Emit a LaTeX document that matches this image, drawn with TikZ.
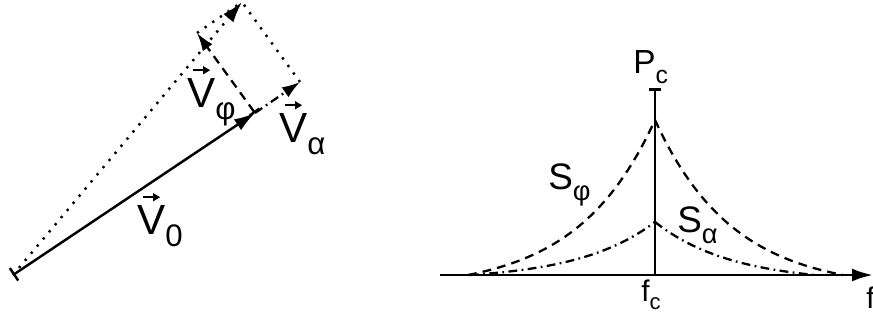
\documentclass[tikz,border=0pt]{standalone}
\usepackage{fontspec}
\setmainfont{Liberation Sans}
\usetikzlibrary{arrows.meta, calc}

% small arrow on top of a letter, and a lowered subscript
\newcommand{\arrowtop}{\tikz[x=1pt, y=1pt]\draw[solid, line width=0.9pt, -{Triangle[length=4pt, width=4.4pt]}] (0,0) -- (10,0);}
\newcommand{\vecl}[1]{\ooalign{#1\cr\hidewidth\raisebox{0.78em}{\arrowtop}\hidewidth\cr}}
\newcommand{\sub}[1]{\raisebox{-0.3em}{\scalebox{0.74}{#1}}}

\begin{document}
\begin{tikzpicture}[
    x=0.02cm, y=-0.02cm,
    lbl/.style={inner sep=0pt, anchor=base west},
    big/.style={font=\fontsize{24}{26}\selectfont},
    mid/.style={font=\fontsize{21}{24}\selectfont},
    small/.style={font=\fontsize{19}{22}\selectfont},
    tiny/.style={font=\fontsize{17}{19}\selectfont},
    vec/.style={line width=1.4pt, -{Latex[length=4.2mm, width=2.6mm]}},
    dots/.style={line width=1.4pt, dash pattern=on 1.3pt off 4pt},
    dashline/.style={line width=1.3pt, dash pattern=on 5pt off 3.5pt},
    dashdot/.style={line width=1.3pt, dash pattern=on 5pt off 2.5pt on 1pt off 2.5pt},
    axis/.style={line width=1.6pt}
]
\useasboundingbox (0,0) rectangle (873,322);

% Vector decomposition
\coordinate (o) at (13,275);
\coordinate (v0) at (255,113);
\coordinate (vphi) at (197,33);
\coordinate (valpha) at (300,82);
\coordinate (vsum) at ($(vphi)+(valpha)-(v0)$);

\draw[dots, -{Latex[length=4.2mm, width=2.6mm]}] (o) -- (vsum);
\draw[dots] (vphi) -- (vsum);
\draw[dots] (valpha) -- (vsum);
\draw[vec, {Bar[width=3mm]}-{Latex[length=4.2mm, width=2.6mm]}] (o) -- (v0);
\draw[vec, dashline, {Bar[width=2.4mm]}-{Latex[length=3.6mm, width=2.4mm]}] (v0) -- (vphi);
\draw[vec, dashdot, -{Latex[length=3.6mm, width=2.4mm]}] (v0) -- (valpha);

\node[lbl, big] (lv0) at (137,234) {\vecl{V}\sub{0}};
\node[lbl, big] (lvphi) at (187,107) {\vecl{V}\sub{φ}};
\node[lbl, big] (lvalpha) at (279,142) {\vecl{V}\sub{α}};

% Spectrum
\coordinate (fc) at (655,275);
\coordinate (pc) at (655,88);
\coordinate (fstart) at (440,275);
\coordinate (fend) at (873,275);

\draw[dashline] plot[domain=468:655, samples=60]
    (\x, {275 - 155*(exp(-(655-\x)/78) - exp(-187/78))/(1 - exp(-187/78))});
\draw[dashline] plot[domain=655:843, samples=60]
    (\x, {275 - 155*(exp(-(\x-655)/78) - exp(-188/78))/(1 - exp(-188/78))});
\draw[dashdot] plot[domain=470:655, samples=60]
    (\x, {275 - 53*(exp(-(655-\x)/77) - exp(-185/77))/(1 - exp(-185/77))});
\draw[dashdot] plot[domain=655:815, samples=60]
    (\x, {275 - 53*(exp(-(\x-655)/77) - exp(-160/77))/(1 - exp(-160/77))});

\draw[axis, -{Latex[length=4.2mm, width=2.6mm]}] (fstart) -- (fend);
\draw[axis, -{Bar[width=2.4mm]}] (fc) -- (pc);
\fill (655,222) circle (1.6);

\node[lbl, small] (lpc) at (633,73) {P\sub{c}};
\node[lbl, tiny] (lfc) at (641,301) {f\sub{c}};
\node[lbl, tiny] (lf) at (866,308) {f};
\node[lbl, mid] (lsphi) at (548,189) {S\sub{φ}};
\node[lbl, mid] (lsalpha) at (677,232) {S\sub{α}};

\end{tikzpicture}
\end{document}
